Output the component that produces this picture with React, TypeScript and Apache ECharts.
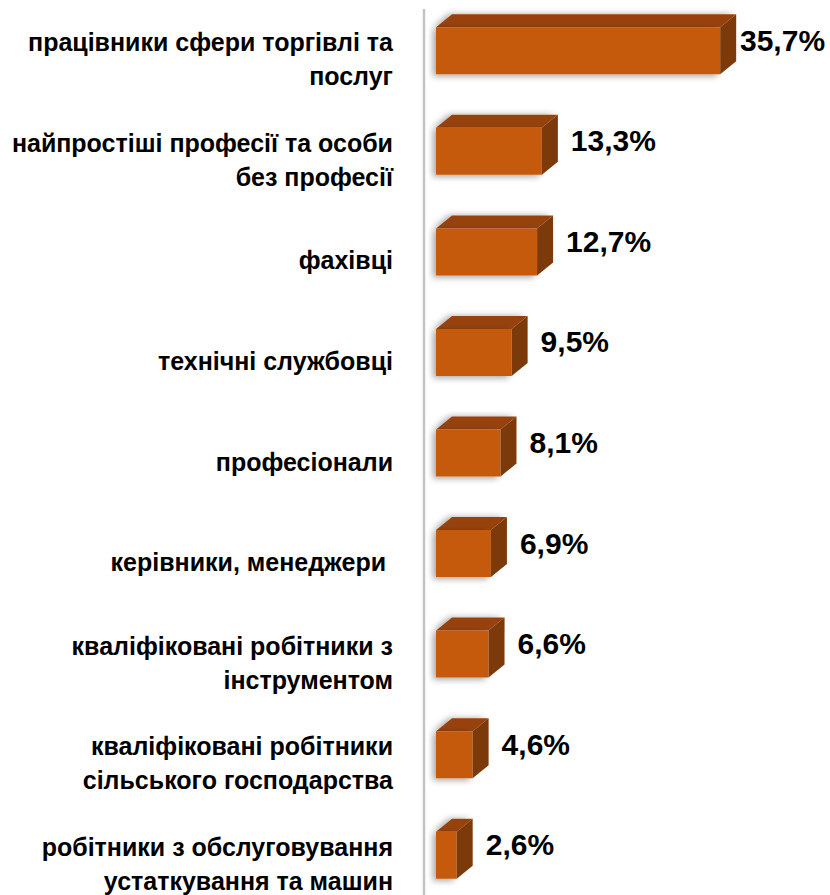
import React, { useEffect, useRef } from "react";
import * as echarts from "echarts";

const categories = [
  "працівники сфери торгівлі та\nпослуг",
  "найпростіші професії та особи\nбез професії",
  "фахівці",
  "технічні службовці",
  "професіонали",
  "керівники, менеджери ",
  "кваліфіковані робітники з\nінструментом",
  "кваліфіковані робітники\nсільського господарства",
  "робітники з обслуговування\nустаткування та машин",
];
const values = [35.7, 13.3, 12.7, 9.5, 8.1, 6.9, 6.6, 4.6, 2.6];
const valueLabels = ["35,7%", "13,3%", "12,7%", "9,5%", "8,1%", "6,9%", "6,6%", "4,6%", "2,6%"];

const FRONT = "#C55A11";
const TOP = "#974310";
const SIDE = "#7C3A0B";
const DX = 16;
const DY = 13;

export default function App() {
  const ref = useRef<HTMLDivElement>(null);
  useEffect(() => {
    if (!ref.current) return;
    const chart = echarts.init(ref.current, null, { renderer: "svg" });
    const font = "'Liberation Sans', Arial, sans-serif";
    chart.setOption({
      animation: false,
      backgroundColor: "#ffffff",
      grid: { left: 436, right: 75.6, top: 0, height: 905 },
      xAxis: { type: "value", min: 0, max: 40, show: false },
      yAxis: {
        type: "category",
        inverse: true,
        data: categories,
        axisLine: { show: false },
        axisTick: { show: false },
        splitLine: { show: false },
        axisLabel: { show: false },
      },
      graphic: [
        {
          type: "line",
          shape: { x1: 424, y1: 9, x2: 424, y2: 895 },
          style: { stroke: "#c3c3c3", lineWidth: 2.5 },
        },
      ],
      series: [
        {
          type: "custom",
          clip: false,
          data: values.map((v, i) => [v, i]),
          encode: { x: 0, y: 1 },
          renderItem: (params: any, api: any) => {
            const v = api.value(0);
            const idx = api.value(1);
            const start = api.coord([0, idx]);
            const end = api.coord([v, idx]);
            const c = start[1];
            const x0 = start[0];
            const x1 = end[0];
            const y0 = c - 23;
            const y1 = c + 24;
            const lx = Math.min(x1 + DX + 13, api.getWidth() - 90);
            return {
              type: "group",
              children: [
                {
                  type: "polygon",
                  shape: { points: [[x0, y0], [x0 + DX, y0 - DY], [x1 + DX, y0 - DY], [x1, y0]] },
                  style: { fill: TOP, shadowColor: "rgba(0,0,0,0.35)", shadowBlur: 6, shadowOffsetX: -3, shadowOffsetY: 0 },
                },
                {
                  type: "rect",
                  shape: { x: x0, y: y0, width: x1 - x0, height: y1 - y0 },
                  style: { fill: FRONT, shadowColor: "rgba(0,0,0,0.35)", shadowBlur: 6, shadowOffsetX: -3, shadowOffsetY: 2 },
                },
                {
                  type: "polygon",
                  shape: { points: [[x1, y0], [x1 + DX, y0 - DY], [x1 + DX, y1 - DY], [x1, y1]] },
                  style: { fill: SIDE },
                },
                {
                  type: "text",
                  x: lx,
                  y: c - 10,
                  style: {
                    text: valueLabels[idx],
                    fontSize: 30,
                    fontWeight: "bold",
                    fontFamily: font,
                    fill: "#000000",
                    align: "left",
                    verticalAlign: "middle",
                  },
                },
                {
                  type: "text",
                  x: x0 - 43,
                  y: c + 9,
                  style: {
                    text: categories[idx],
                    fontSize: 25,
                    fontWeight: "bold",
                    fontFamily: font,
                    fill: "#000000",
                    lineHeight: 34,
                    align: "right",
                    verticalAlign: "middle",
                  },
                },
              ],
            };
          },
        },
      ],
    });
    return () => chart.dispose();
  }, []);
  return (
    <div style={{ position: "absolute", left: 0, top: 0, width: 830, height: 895, overflow: "hidden" }}>
      <div ref={ref} style={{ width: 830, height: 910 }} />
    </div>
  );
}
